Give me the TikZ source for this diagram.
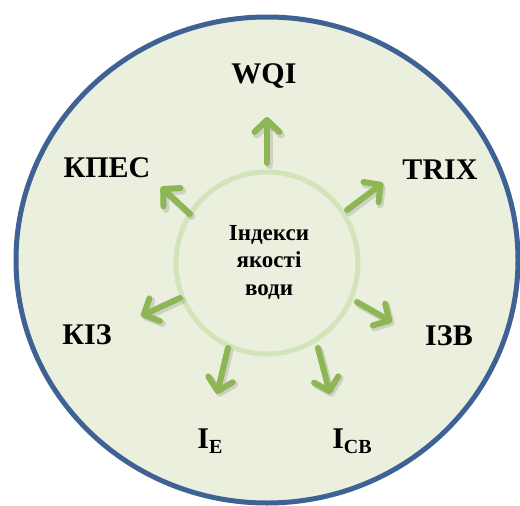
\documentclass[tikz,border=0pt]{standalone}
\usepackage{fontspec}
\setmainfont{Liberation Serif}
\usetikzlibrary{arrows.meta}
\definecolor{bgfill}{RGB}{234,240,221}
\definecolor{outerblue}{RGB}{62,98,148}
\definecolor{innergreen}{RGB}{212,228,186}
\definecolor{arrowgreen}{RGB}{142,182,84}
\tikzset{
  lbl/.style={font=\fontsize{30}{36}\selectfont\bfseries, anchor=base, inner sep=0pt, text=black},
  ctr/.style={font=\fontsize{23}{27.5}\selectfont\bfseries, align=center, inner sep=0pt, text=black},
  garrow/.style={draw=arrowgreen, line width=6pt, line cap=round,
    -{Straight Barb[length=12pt, width=25pt, round]}},
  gshadow/.style={draw=black, opacity=0.12, line width=7pt, line cap=round,
    -{Straight Barb[length=12pt, width=25pt, round]}},
}
\begin{document}
\begin{tikzpicture}[x=1pt,y=-1pt]
\useasboundingbox (0,0) rectangle (520,506);
\begin{scope}
\clip (0,0) rectangle (520,506);
\draw[fill=bgfill, draw=outerblue, line width=5pt] (267,260) ellipse [x radius=251, y radius=243];
\end{scope}
\draw[draw=innergreen, line width=5pt] (267,263) circle [radius=91];
\node[ctr] (center) at (269,262) {Індекси\\якості\\води};
% arrow coordinates
\coordinate (s1) at (267,163); \coordinate (t1) at (267,117);
\coordinate (s2) at (347,210); \coordinate (t2) at (383,183);
\coordinate (s3) at (190,214); \coordinate (t3) at (161,187);
\coordinate (s4) at (180,298); \coordinate (t4) at (141,316);
\coordinate (s5) at (357,302); \coordinate (t5) at (392,322);
\coordinate (s6) at (228,348); \coordinate (t6) at (217,394);
\coordinate (s7) at (318,348); \coordinate (t7) at (330,394);
\foreach \i in {1,...,7} {
  \draw[gshadow, transform canvas={shift={(2pt,-2.5pt)}}] (s\i) -- (t\i);
  \draw[garrow] (s\i) -- (t\i);
}
% labels
\node[lbl] (wqi) at (264,83) {WQI};
\node[lbl] (trix) at (440,179) {TRIX};
\node[lbl] (kpes) at (107,177) {КПЕС};
\node[lbl] (kiz) at (87,344) {КІЗ};
\node[lbl] (izv) at (449,345) {ІЗВ};
\node[lbl] (ie) at (210,448) {I\raisebox{-5pt}{\fontsize{20}{24}\selectfont E}};
\node[lbl] (icb) at (352,448) {I\raisebox{-5pt}{\fontsize{20}{24}\selectfont CB}};
\end{tikzpicture}
\end{document}
